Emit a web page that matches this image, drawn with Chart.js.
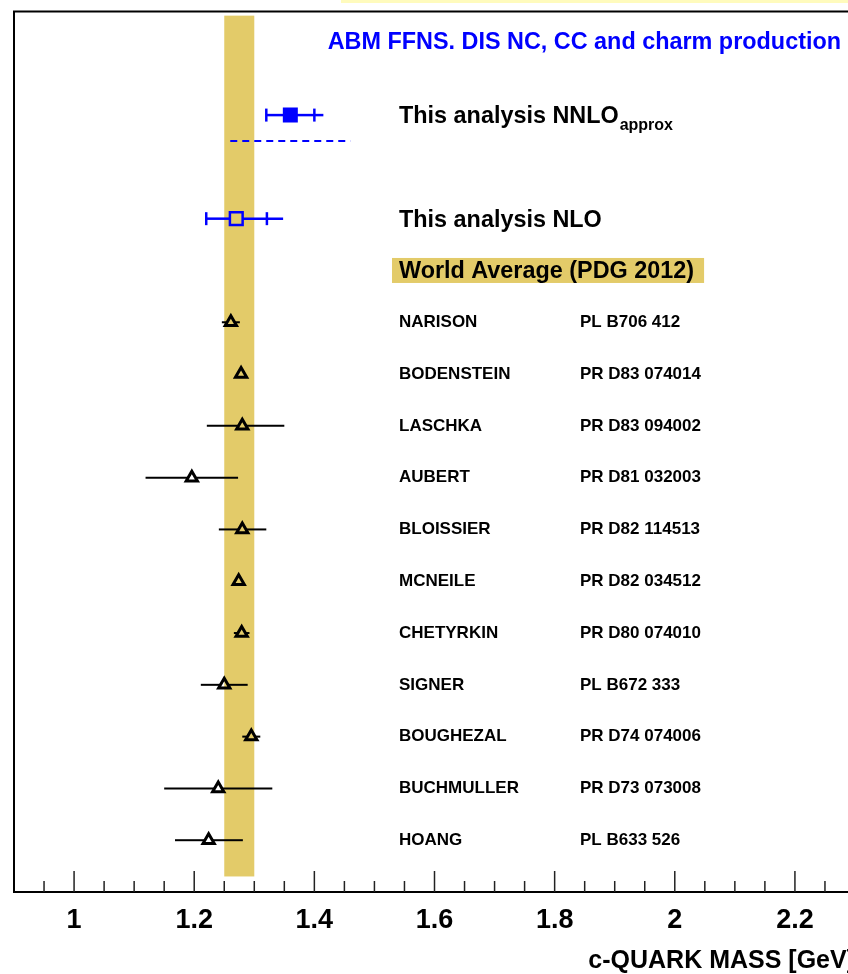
<!DOCTYPE html>
<html lang="en">
<head>
<meta charset="UTF-8">
<title>c-quark mass</title>
<script src="https://cdn.jsdelivr.net/npm/chart.js"></script>
<style>
    html, body {
        margin: 0;
        padding: 0;
        background: #fff;
        overflow: hidden;
    }

    #wrap {
        position: relative;
        width: 848px;
        height: 974px;
        overflow: hidden;
    }

    #massChart {
        position: absolute;
        left: 0;
        top: 0;
    }

    /* pale highlight strip along the top edge */
    #topStrip {
        position: absolute;
        left: 341px;
        top: 0;
        width: 507px;
        height: 3px;
        background: #fffbbd;
    }
</style>
</head>
<body>
<div id="wrap">
    <canvas id="massChart" width="870" height="974"></canvas>
    <div id="topStrip"></div>
</div>

<script>
const FONT = '"Liberation Sans", Arial, Helvetica, sans-serif';
const BLUE = '#0000ff';
const BAND = '#e3cb69';

// world average (PDG 2012)
const pdgMass = 1.275;
const pdgErr = 0.025;

// this analysis
const fitNames = ['This analysis NNLO', 'This analysis NLO'];
const fitRows = [15, 13];
const fitMass = [1.36, 1.27];
const fitErrLo = [0.04, 0.05];
const fitErrHi = [0.04, 0.051];
const fitTotHi = [0.055, 0.078];
const nnloLine = [1.26, 1.46];
const nnloLineRow = 14.5;

// other determinations
const refNames = ['NARISON', 'BODENSTEIN', 'LASCHKA', 'AUBERT', 'BLOISSIER', 'MCNEILE',
                  'CHETYRKIN', 'SIGNER', 'BOUGHEZAL', 'BUCHMULLER', 'HOANG'];
const refPapers = ['PL B706 412', 'PR D83 074014', 'PR D83 094002', 'PR D81 032003', 'PR D82 114513',
                   'PR D82 034512', 'PR D80 074010', 'PL B672 333', 'PR D74 074006', 'PR D73 073008',
                   'PL B633 526'];
const refRows = [11, 10, 9, 8, 7, 6, 5, 4, 3, 2, 1];
const refMass = [1.261, 1.278, 1.280, 1.196, 1.280, 1.274, 1.279, 1.250, 1.295, 1.240, 1.224];
const refErrLo = [0.015, 0.005, 0.059, 0.077, 0.039, 0.004, 0.013, 0.039, 0.015, 0.090, 0.056];
const refErrHi = [0.015, 0.005, 0.070, 0.077, 0.040, 0.004, 0.013, 0.039, 0.015, 0.090, 0.057];

const majorTicks = [1, 1.2, 1.4, 1.6, 1.8, 2, 2.2];

const hline = (ctx, x0, x1, y) => {
    if (x1 <= x0) return;
    ctx.beginPath();
    ctx.moveTo(x0, y);
    ctx.lineTo(x1, y);
    ctx.stroke();
};

const vline = (ctx, x, y0, y1) => {
    ctx.beginPath();
    ctx.moveTo(x, y0);
    ctx.lineTo(x, y1);
    ctx.stroke();
};

// error bar broken around the marker, like ROOT does
const errBar = (ctx, x0, xc, x1, y, gap) => {
    hline(ctx, x0, xc - gap, y);
    hline(ctx, xc + gap, x1, y);
};

const decor = {
    id: 'decor',
    beforeDatasetsDraw(chart) {
        const {ctx, scales: {x, y}} = chart;
        ctx.save();

        // PDG band
        const bx0 = x.getPixelForValue(pdgMass - pdgErr);
        const bx1 = x.getPixelForValue(pdgMass + pdgErr);
        const by0 = y.getPixelForValue(16.92);
        const by1 = y.getPixelForValue(0.3);
        ctx.fillStyle = BAND;
        ctx.fillRect(bx0, by0, bx1 - bx0, by1 - by0);

        // dashed separator under NNLO
        ctx.strokeStyle = BLUE;
        ctx.lineWidth = 2;
        ctx.setLineDash([7, 5]);
        hline(ctx, x.getPixelForValue(nnloLine[0]), x.getPixelForValue(nnloLine[1]), y.getPixelForValue(nnloLineRow));
        ctx.setLineDash([]);

        // reference error bars
        ctx.strokeStyle = '#000';
        ctx.lineWidth = 2;
        refMass.forEach((m, i) => {
            const py = y.getPixelForValue(refRows[i]);
            errBar(ctx, x.getPixelForValue(m - refErrLo[i]), x.getPixelForValue(m),
                   x.getPixelForValue(m + refErrHi[i]), py, 4);
        });

        // this analysis error bars
        ctx.strokeStyle = BLUE;
        ctx.lineWidth = 2.5;
        fitMass.forEach((m, i) => {
            const py = y.getPixelForValue(fitRows[i]);
            const xl = x.getPixelForValue(m - fitErrLo[i]);
            const xr = x.getPixelForValue(m + fitErrHi[i]);
            errBar(ctx, xl, x.getPixelForValue(m), x.getPixelForValue(m + fitTotHi[i]), py, 6);
            vline(ctx, xl, py - 6.5, py + 6.5);
            vline(ctx, xr, py - 6.5, py + 6.5);
        });
        ctx.restore();
    },
    afterDraw(chart) {
        const {ctx, chartArea: a, scales: {x, y}} = chart;
        ctx.save();

        // frame
        ctx.strokeStyle = '#000';
        ctx.lineWidth = 2;
        ctx.strokeRect(a.left, a.top, a.right - a.left, a.bottom - a.top);

        // inward ticks, 0.05 apart
        ctx.strokeStyle = '#222';
        ctx.lineWidth = 1.5;
        for (let k = 19; k < 46; k++) {
            const px = x.getPixelForValue(k * 0.05);
            vline(ctx, px, a.bottom, a.bottom - (k % 4 === 0 ? 21 : 11));
        }

        // header
        ctx.fillStyle = BLUE;
        ctx.font = 'bold 23.4px ' + FONT;
        ctx.textAlign = 'right';
        ctx.textBaseline = 'middle';
        ctx.fillText('ABM FFNS. DIS NC, CC and charm production', a.right - 14, y.getPixelForValue(16.4));

        const lx = a.left + 385;
        const jx = a.left + 566;
        ctx.textAlign = 'left';
        ctx.fillStyle = '#000';

        // this analysis labels
        ctx.textBaseline = 'alphabetic';
        fitNames.forEach((name, i) => {
            const base = y.getPixelForValue(fitRows[i]) + 8.3;
            ctx.font = 'bold 23.4px ' + FONT;
            ctx.fillText(name, lx, base);
            if (i === 0) {
                const w = ctx.measureText(name).width;
                ctx.font = 'bold 16px ' + FONT;
                ctx.fillText('approx', lx + w + 1, base + 6.5);
            }
        });

        // world average label
        ctx.font = 'bold 23.4px ' + FONT;
        ctx.textBaseline = 'middle';
        const wa = 'World Average (PDG 2012)';
        const wy = y.getPixelForValue(12);
        const ww = ctx.measureText(wa).width;
        ctx.fillStyle = BAND;
        ctx.fillRect(lx - 7, wy - 12.5, ww + 17, 25);
        ctx.fillStyle = '#000';
        ctx.fillText(wa, lx, wy + 1);

        // references
        ctx.font = 'bold 17px ' + FONT;
        refNames.forEach((name, i) => {
            const py = y.getPixelForValue(refRows[i]);
            ctx.fillText(name, lx, py);
            ctx.fillText(refPapers[i], jx, py);
        });
        ctx.restore();
    }
};

const massChart = new Chart(document.getElementById('massChart'), {
    type: 'scatter',
    data: {
        datasets: [
            {
                label: 'references',
                data: refMass.map((m, i) => ({x: m, y: refRows[i]})),
                pointStyle: 'triangle',
                radius: 6.5,
                borderColor: '#000',
                backgroundColor: 'rgba(0,0,0,0)',
                borderWidth: 3
            },
            {
                label: 'NNLO',
                data: [{x: fitMass[0], y: fitRows[0]}],
                pointStyle: 'rect',
                radius: 10.6,
                borderWidth: 0,
                backgroundColor: BLUE,
                borderColor: BLUE
            },
            {
                label: 'NLO',
                data: [{x: fitMass[1], y: fitRows[1]}],
                pointStyle: 'rect',
                radius: 9,
                borderWidth: 2.5,
                backgroundColor: 'rgba(0,0,0,0)',
                borderColor: BLUE
            }
        ]
    },
    options: {
        responsive: false,
        animation: false,
        events: [],
        layout: {padding: {left: 14, top: 9, right: 15, bottom: 0}},
        plugins: {
            legend: {display: false},
            tooltip: {enabled: false}
        },
        scales: {
            x: {
                type: 'linear',
                min: 0.9,
                max: 2.3,
                grid: {display: false},
                border: {display: false},
                afterBuildTicks: s => { s.ticks = majorTicks.map(v => ({value: v})); },
                afterFit: s => { s.height = 82; },
                ticks: {
                    color: '#000',
                    font: {family: FONT, size: 27, weight: 'bold', lineHeight: 1},
                    padding: 7,
                    maxRotation: 0,
                    autoSkip: false,
                    callback: v => String(v)
                },
                title: {
                    display: true,
                    text: 'c-QUARK MASS [GeV]',
                    align: 'end',
                    color: '#000',
                    font: {family: FONT, size: 25, weight: 'bold', lineHeight: 1},
                    padding: {top: 0, bottom: 0}
                }
            },
            y: {
                type: 'linear',
                min: 0,
                max: 17,
                display: false
            }
        }
    },
    plugins: [decor]
});
</script>
</body>
</html>
